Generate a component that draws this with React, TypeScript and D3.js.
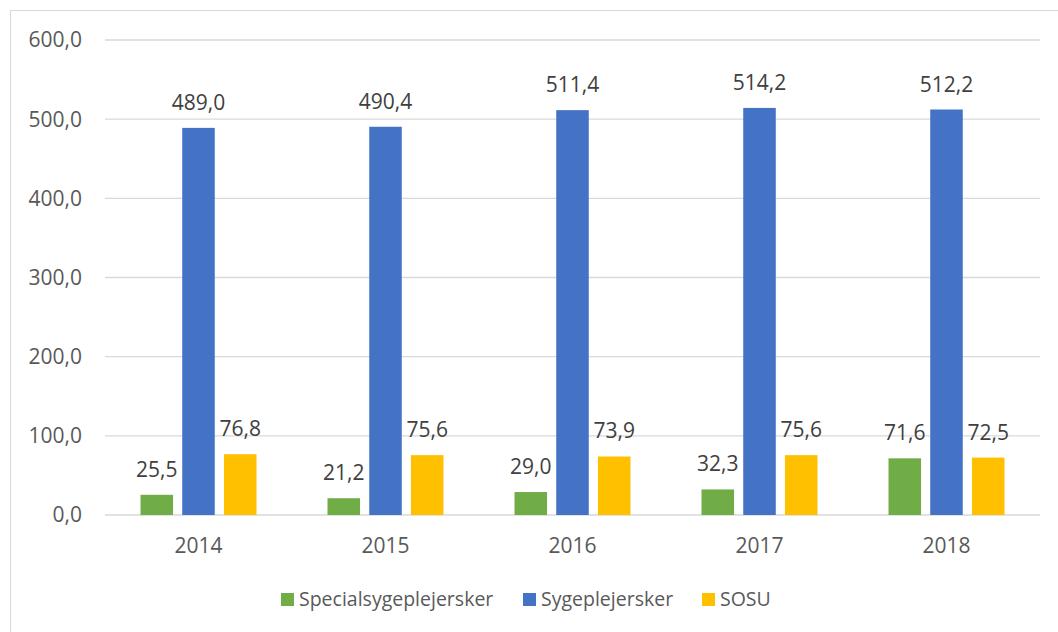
import React from "react";
import * as d3 from "d3";

const years = ["2014", "2015", "2016", "2017", "2018"];
const seriesNames = ["Specialsygeplejersker", "Sygeplejersker", "SOSU"];
const special = [25.5, 21.2, 29.0, 32.3, 71.6];
const syge = [489.0, 490.4, 511.4, 514.2, 512.2];
const sosu = [76.8, 75.6, 73.9, 75.6, 72.5];
const yTicks = [0, 100, 200, 300, 400, 500, 600];
const colors = ["#70AD47", "#4472C4", "#FFC000"];

const W = 1058;
const H = 632;
const plot = { left: 105, right: 1040, top: 40, bottom: 515 };
const FONT = "'Open Sans', 'Liberation Sans', sans-serif";

export default function App() {
  const series = [special, syge, sosu];
  const x = d3.scaleBand<string>().domain(years).range([plot.left, plot.right]).paddingInner(0).paddingOuter(0);
  const inner = d3
    .scaleBand<number>()
    .domain([0, 1, 2])
    .range([35.5, x.bandwidth() - 35.5])
    .paddingInner(0.22)
    .paddingOuter(0);
  const y = d3.scaleLinear().domain([0, 600]).range([plot.bottom, plot.top]);
  const fmt = (v: number) => v.toFixed(1).replace(".", ",");

  const legendItems = [
    { name: seriesNames[0], x: 281 },
    { name: seriesNames[1], x: 523 },
    { name: seriesNames[2], x: 702 },
  ];

  return (
    <svg width={W} height={H} style={{ position: "absolute", left: 0, top: 0, background: "#fff" }} fontFamily={FONT}>
      <rect x={10.5} y={10.5} width={W + 10} height={H + 10} fill="#fff" stroke="#D9D9D9" strokeWidth={1} />
      {yTicks.map((t) => (
        <g key={t}>
          <line x1={plot.left} x2={plot.right} y1={y(t)} y2={y(t)} stroke="#D9D9D9" strokeWidth={1.3} />
          <text x={82} y={y(t)} dy="0.35em" textAnchor="end" fontSize={21} fill="#595959">
            {fmt(t)}
          </text>
        </g>
      ))}
      {years.map((yr, gi) => (
        <g key={yr}>
          {series.map((s, si) => {
            const bx = (x(yr) as number) + (inner(si) as number);
            const v = s[gi];
            return (
              <g key={si}>
                <rect x={bx} y={y(v)} width={inner.bandwidth()} height={y(0) - y(v)} fill={colors[si]} />
                <text x={bx + inner.bandwidth() / 2} y={y(v) - 18} textAnchor="middle" fontSize={21} fill="#404040">
                  {fmt(v)}
                </text>
              </g>
            );
          })}
          <text x={(x(yr) as number) + x.bandwidth() / 2} y={553} textAnchor="middle" fontSize={21} fill="#595959">
            {yr}
          </text>
        </g>
      ))}
      {legendItems.map((l, i) => (
        <g key={l.name}>
          <rect x={l.x} y={593} width={13} height={13} fill={colors[i]} />
          <text x={l.x + 18} y={606} fontSize={19.5} fill="#595959">
            {l.name}
          </text>
        </g>
      ))}
    </svg>
  );
}
